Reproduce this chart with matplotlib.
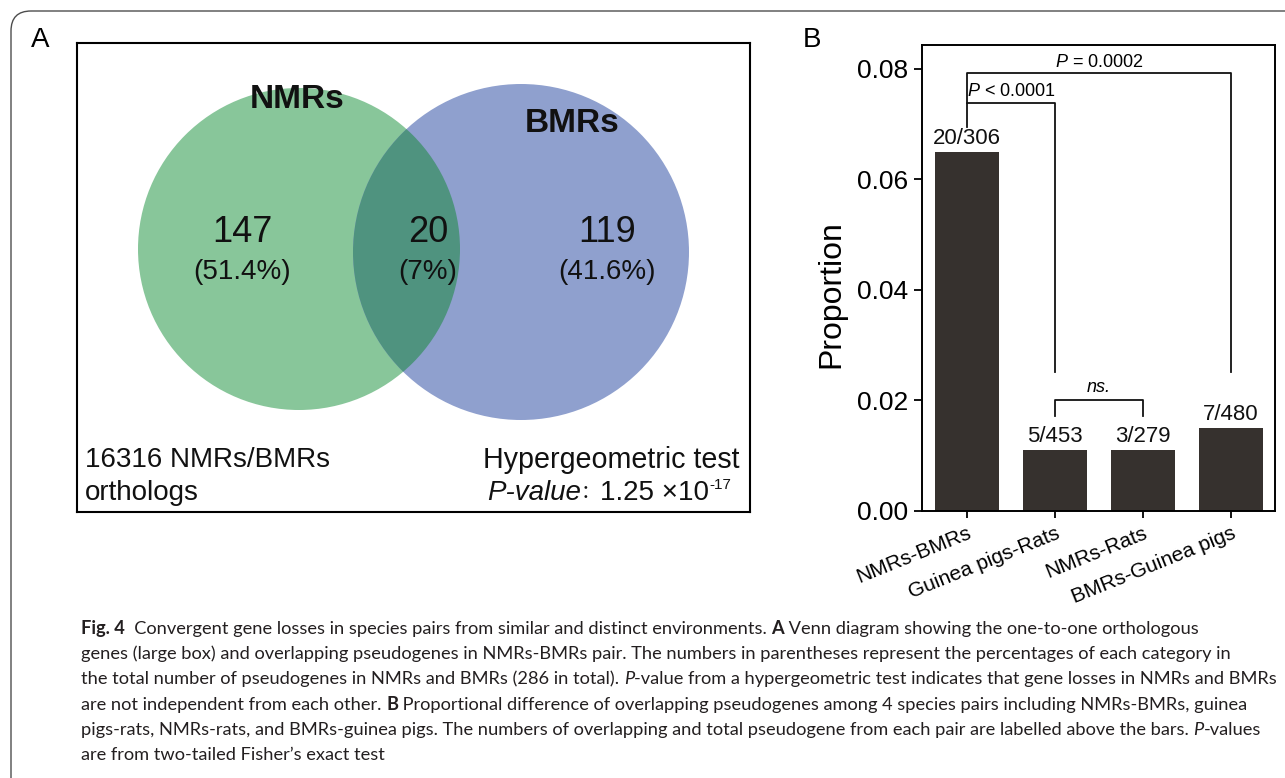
import numpy as np
import matplotlib.pyplot as plt
from matplotlib.patches import Circle, FancyBboxPatch
from matplotlib.font_manager import FontProperties

# data
pairs = ["NMRs-BMRs", "Guinea pigs-Rats", "NMRs-Rats", "BMRs-Guinea pigs"]
proportion = [0.065, 0.011, 0.011, 0.015]
pair_counts = ["20/306", "5/453", "3/279", "7/480"]
yticks = [0.00, 0.02, 0.04, 0.06, 0.08]
venn_counts = ["147", "20", "119"]
venn_pct = ["(51.4%)", "(7%)", "(41.6%)"]
venn_sets = ["NMRs", "BMRs"]

cap_lines = [
    [("Fig. 4", "b"), ("  Convergent gene losses in species pairs from similar and distinct environments. ", "r"),
     ("A", "b"), (" Venn diagram showing the one-to-one orthologous", "r")],
    [("genes (large box) and overlapping pseudogenes in NMRs-BMRs pair. The numbers in parentheses represent the percentages of each category in", "r")],
    [("the total number of pseudogenes in NMRs and BMRs (286 in total). ", "r"), ("P", "i"),
     ("-value from a hypergeometric test indicates that gene losses in NMRs and BMRs", "r")],
    [("are not independent from each other. ", "r"), ("B", "b"),
     (" Proportional difference of overlapping pseudogenes among 4 species pairs including NMRs-BMRs, guinea", "r")],
    [("pigs-rats, NMRs-rats, and BMRs-guinea pigs. The numbers of overlapping and total pseudogene from each pair are labelled above the bars. ", "r"),
     ("P", "i"), ("-values", "r")],
    [("are from two-tailed Fisher\u2019s exact test", "r")],
]

plt.rcParams['font.family'] = 'Liberation Sans'
plt.rcParams['mathtext.fontset'] = 'custom'
plt.rcParams['mathtext.rm'] = 'Liberation Sans'
plt.rcParams['mathtext.it'] = 'Liberation Sans:italic'

W, H = 1285, 778
fig = plt.figure(figsize=(W/100, H/100), dpi=100)

# background axes in pixel units (frame, panel letters, caption)
bg = fig.add_axes([0, 0, 1, 1])
bg.set_xlim(0, W); bg.set_ylim(H, 0); bg.axis('off')
bg.add_patch(FancyBboxPatch((11, 11), 1400, 1000, boxstyle="round,pad=0,rounding_size=20",
                            fc='none', ec='#4d4d4d', lw=1.0))
bg.text(40, 40, "A", fontsize=20, ha='center', va='center')
bg.text(812, 40, "B", fontsize=20, ha='center', va='center')

# ---- panel A: venn
axA = fig.add_axes([77/W, 1-512/H, 673/W, 469/H])
axA.set_xlim(0, 673); axA.set_ylim(469, 0)
axA.set_xticks([]); axA.set_yticks([])
for sp in axA.spines.values():
    sp.set_linewidth(1.5)

cg = Circle((222, 206), 161, fc='#88c69a', ec='none')
cb = Circle((444, 209), 168, fc='#8fa0ce', ec='none')
axA.add_patch(cg); axA.add_patch(cb)
ov = Circle((222, 206), 161, fc='#4f937f', ec='none')
axA.add_patch(ov)
ov.set_clip_path(cb)

axA.text(220, 57, venn_sets[0], fontsize=24, fontweight='bold', ha='center', va='center', color='#111')
axA.text(495, 80, venn_sets[1], fontsize=24, fontweight='bold', ha='center', va='center', color='#111')
for xc, n, p in zip([165, 351, 530], venn_counts, venn_pct):
    axA.text(xc, 189, n, fontsize=26, ha='center', va='center', color='#111')
    axA.text(xc, 229, p, fontsize=20, ha='center', va='center', color='#111')

axA.text(8, 417, "16316 NMRs/BMRs", fontsize=20, ha='left', va='center', color='#111')
axA.text(8, 450, "orthologs", fontsize=20, ha='left', va='center', color='#111')
axA.text(406, 417, "Hypergeometric test", fontsize=20.6, ha='left', va='center', color='#111')

renderer = fig.canvas.get_renderer()

def text_w(s, prop):
    w1 = renderer.get_text_width_height_descent('|' + s + '|', prop, ismath=False)[0]
    w0 = renderer.get_text_width_height_descent('||', prop, ismath=False)[0]
    return w1 - w0

# P-value line, drawn in pieces (pixel x offsets): text, font, dy
x0 = 410; yb = 457
pv_runs = [("P-value", dict(style='italic', size=20, family='Liberation Sans'), 0),
           ("\uff1a", dict(size=14, family='Noto Sans CJK SC'), -2),
           ("1.25 \u00d710", dict(size=20, family='Liberation Sans'), 0),
           ("-17", dict(size=11, family='Liberation Sans'), -11)]
for s, kw, dy in pv_runs:
    prop = FontProperties(**kw)
    axA.text(x0, yb + dy, s, fontproperties=prop, ha='left', va='baseline', color='#111')
    x0 += text_w(s, prop)

# ---- panel B: bars
axB = fig.add_axes([922/W, 1-511/H, 353/W, 466/H])
x = np.arange(len(pairs))
axB.bar(x, proportion, width=0.72, color='#36312e')
for xi, v, c in zip(x, proportion, pair_counts):
    axB.text(xi, v + 0.0005, c, ha='center', va='bottom', fontsize=16, color='#111')
axB.set_xlim(-0.51, 3.5); axB.set_ylim(0, 0.0843)
axB.set_yticks(yticks)
axB.set_yticklabels([f"{t:.2f}" for t in yticks], fontsize=19)
axB.set_xticks(x)
axB.set_xticklabels(pairs, rotation=22, ha='right', rotation_mode='anchor', fontsize=15)
axB.tick_params(axis='y', length=6, width=1.3, pad=4)
axB.tick_params(axis='x', length=5, width=1.3, pad=4)
for sp in axB.spines.values():
    sp.set_linewidth(1.4)
axB.set_ylabel("Proportion", fontsize=23)
axB.yaxis.set_label_coords(-0.215, 0.465)

lk = dict(color='#111', lw=1.3)
axB.plot([0, 0, 1, 1], [0.0695, 0.0738, 0.0738, 0.0252], **lk)
axB.plot([0, 0, 3, 3], [0.0738, 0.0793, 0.0793, 0.0252], **lk)
axB.plot([1, 1, 2, 2], [0.0172, 0.0201, 0.0201, 0.0172], **lk)
axB.text(0.5, 0.0758, r"$\mathit{P}$ < 0.0001", fontsize=13, ha='center', va='center')
axB.text(1.5, 0.0811, r"$\mathit{P}$ = 0.0002", fontsize=13, ha='center', va='center')
axB.text(1.5, 0.0224, "ns.", fontsize=13, style='italic', ha='center', va='center')

# ---- caption
cap_font = 'Lato'
styles = {"r": dict(weight='normal', style='normal'),
          "b": dict(weight='bold', style='normal'),
          "i": dict(weight='normal', style='italic')}

def line_w(runs, size):
    return sum(text_w(s, FontProperties(family=cap_font, size=size, **styles[k])) for s, k in runs)

cap_size = 10 * 1200 / line_w(cap_lines[2], 10)
for i, runs in enumerate(cap_lines):
    xc = 81; yc = 634 + 25.2 * i
    for s, k in runs:
        prop = FontProperties(family=cap_font, size=cap_size, **styles[k])
        bg.text(xc, yc, s, fontproperties=prop, ha='left', va='baseline', color='#231f20')
        xc += text_w(s, prop)

fig.savefig("out.png", dpi=100)
